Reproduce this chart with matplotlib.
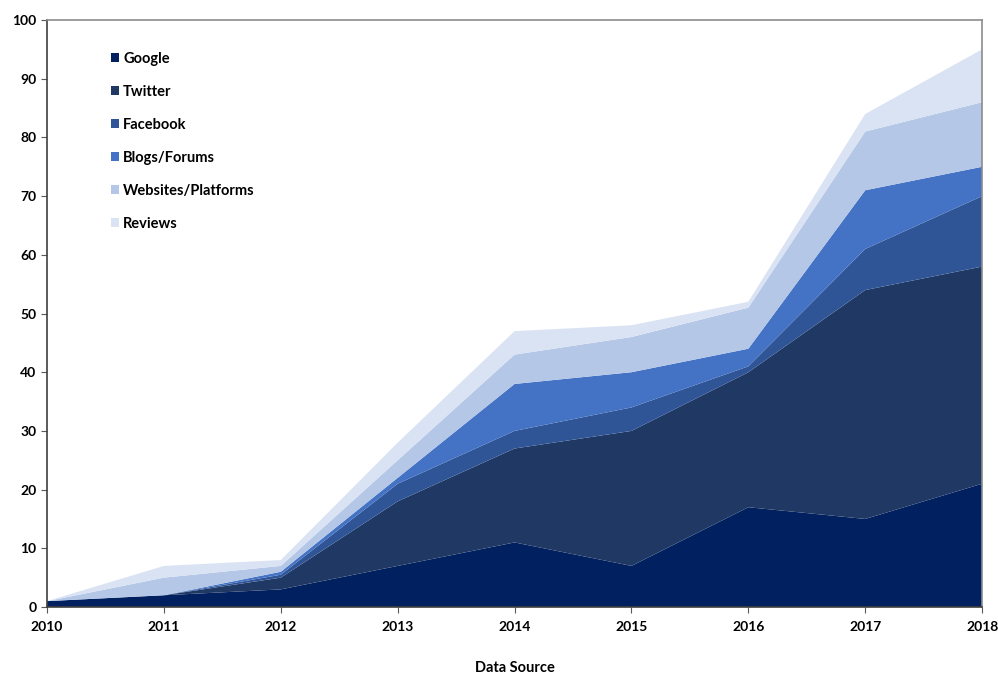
import matplotlib

matplotlib.use("Agg")
import matplotlib.pyplot as plt
import numpy as np

plt.rcParams["font.family"] = ["Lato", "DejaVu Sans"]
plt.rcParams["font.weight"] = "bold"

years = [2010, 2011, 2012, 2013, 2014, 2015, 2016, 2017, 2018]
series = ["Google", "Twitter", "Facebook", "Blogs/Forums", "Websites/Platforms", "Reviews"]

google = [1, 2, 3, 7, 11, 7, 17, 15, 21]
twitter = [0, 0, 2, 11, 16, 23, 23, 39, 37]
facebook = [0, 0, 0.5, 3, 3, 4, 1, 7, 12]
blogs = [0, 0, 0.5, 1, 8, 6, 3, 10, 5]
websites = [0, 3, 1, 3, 5, 6, 7, 10, 11]
reviews = [0, 2, 1, 3, 4, 2, 1, 3, 9]

colors = ["#002060", "#203864", "#2F5597", "#4472C4", "#B4C7E7", "#DAE3F3"]

fig = plt.figure(figsize=(9.98, 6.77), dpi=100)
ax = fig.add_axes([0.0471, 0.1034, 0.937, 0.867])

ax.stackplot(years, google, twitter, facebook, blogs, websites, reviews,
             colors=colors, labels=series, linewidth=0)

ax.set_xlim(2010, 2018)
ax.set_ylim(0, 100)
ax.set_yticks(np.arange(0, 101, 10))
ax.set_xticks(years)
ax.tick_params(axis="both", labelsize=10, direction="out", length=4, color="#595959")
ax.tick_params(axis="x", pad=6)
for lab in ax.get_xticklabels() + ax.get_yticklabels():
    lab.set_fontweight("bold")

for side in ("left", "bottom"):
    ax.spines[side].set_color("#404040")
    ax.spines[side].set_linewidth(1.2)
for side in ("top", "right"):
    ax.spines[side].set_color("#8c8c8c")
    ax.spines[side].set_linewidth(1.2)

ax.set_xlabel("Data Source", fontsize=10.5, fontweight="bold", labelpad=20)

ax.legend(loc="upper left", bbox_to_anchor=(0.054, 0.968), frameon=False,
          handlelength=0.6, handleheight=0.6, handletextpad=0.25,
          labelspacing=1.3, prop={"size": 10.5, "weight": "bold"})

fig.savefig("out.png", dpi=100)
